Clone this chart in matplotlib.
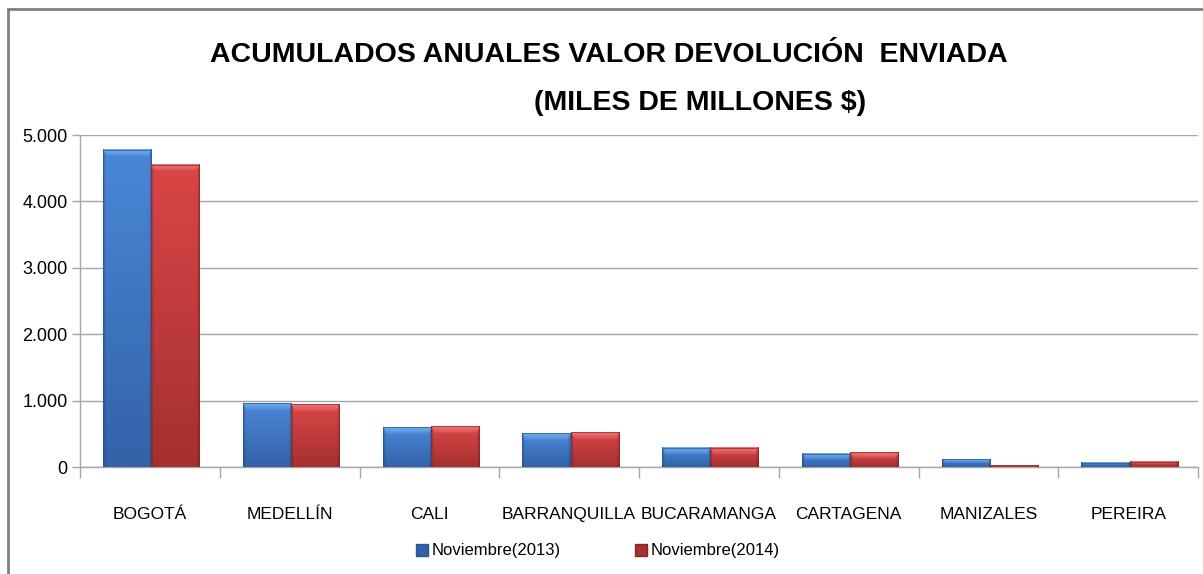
import numpy as np
import matplotlib
matplotlib.use("Agg")
import matplotlib.pyplot as plt
from matplotlib.colors import to_rgb
from matplotlib.patches import Rectangle
from matplotlib.ticker import FuncFormatter

ciudades = ["BOGOTÁ", "MEDELLÍN", "CALI", "BARRANQUILLA", "BUCARAMANGA",
            "CARTAGENA", "MANIZALES", "PEREIRA"]
nov_2013 = [4780, 960, 595, 505, 290, 200, 120, 65]
nov_2014 = [4550, 945, 615, 525, 290, 220, 30, 80]
series = ["Noviembre(2013)", "Noviembre(2014)"]
y_ticks = [0, 1000, 2000, 3000, 4000, 5000]

plt.rcParams['font.family'] = ['Liberation Sans', 'DejaVu Sans']

W, H = 1203, 574
fig = plt.figure(figsize=(W / 100, H / 100), dpi=100)
ax = fig.add_axes([80 / W, 1 - 467 / H, 1118 / W, 332 / H])

x = np.arange(len(ciudades))
bw = 0.345
styles = [
    {'light': '#4a88d8', 'dark': '#3362a8', 'top': '#72b0f2', 'edge': '#2a5590'},
    {'light': '#da4646', 'dark': '#a53030', 'top': '#f27a7a', 'edge': '#8a2525'},
]


def bar_image(st, v):
    # vertical gradient, darker side edges, lighter bevel on top
    ny, nx = 200, 48
    light, dark, top = (np.array(to_rgb(st[k])) for k in ('light', 'dark', 'top'))
    t = np.linspace(0, 1, ny)[:, None, None]
    img = light * (1 - t) + dark * t
    img = np.repeat(img, nx, axis=1)
    xs = np.linspace(0, 1, nx)
    edge = 1 - 0.18 * np.clip(1 - np.minimum(xs, 1 - xs) / 0.06, 0, 1)
    img = img * edge[None, :, None]
    bevel_px = int(ny * min(110 / v, 0.45))
    for r in range(bevel_px):
        a = 0.85 * (1 - r / max(bevel_px, 1)) ** 0.6
        inset = int(nx * 0.06 * r / max(bevel_px, 1)) + 1
        img[r, inset:nx - inset] = img[r, inset:nx - inset] * (1 - a) + top * a
    return img


for i, (vals, st) in enumerate(zip([nov_2013, nov_2014], styles)):
    offs = x - bw / 2 + i * bw + 0.01
    bars = ax.bar(offs, vals, width=bw, color=st['light'], edgecolor=st['edge'],
                  linewidth=0.6, label=series[i], zorder=3)
    for b, v in zip(bars, vals):
        x0 = b.get_x()
        ax.imshow(bar_image(st, v), aspect='auto', zorder=3.5, interpolation='bilinear',
                  extent=[x0, x0 + bw, 0, v])
        ax.add_patch(Rectangle((x0, 0), bw, v, facecolor='none',
                               edgecolor=st['edge'], linewidth=0.5, zorder=3.7))

ax.set_xlim(-0.5, len(ciudades) - 0.5)
ax.set_ylim(0, 5000)
ax.set_yticks(y_ticks)
ax.yaxis.set_major_formatter(FuncFormatter(lambda v, p: f"{int(v):,}".replace(",", ".")))
ax.yaxis.grid(True, color='#a6a6a6', linewidth=1.0, zorder=0)
ax.set_axisbelow(True)

ax.set_xticks(np.arange(-0.5, len(ciudades), 1.0))
ax.set_xticklabels([])
ax.set_xticks(x, minor=True)
ax.set_xticklabels(ciudades, minor=True, fontsize=12.5)
ax.tick_params(axis='x', which='major', length=8, color='#a6a6a6', width=1)
ax.tick_params(axis='x', which='minor', length=0, pad=29)
ax.tick_params(axis='y', length=6, color='#a6a6a6', width=1, labelsize=13, pad=3)

for s in ['top', 'right']:
    ax.spines[s].set_visible(False)
for s in ['left', 'bottom']:
    ax.spines[s].set_color('#a6a6a6')
    ax.spines[s].set_linewidth(1.0)

fig.text(0.506, 1 - 55 / H, "ACUMULADOS ANUALES VALOR DEVOLUCIÓN  ENVIADA",
         ha='center', va='center', fontsize=20.5, fontweight='bold')
fig.text(0.582, 1 - 103 / H, "(MILES DE MILLONES $)",
         ha='center', va='center', fontsize=20.5, fontweight='bold')

handles = [Rectangle((0, 0), 1, 1, facecolor=st['dark'], edgecolor=st['edge'])
           for st in styles]
fig.legend(handles, series, loc='center', bbox_to_anchor=(0.497, 1 - 551 / H),
           ncol=2, frameon=False, fontsize=12, handlelength=0.7, handleheight=0.7,
           handletextpad=0.2, columnspacing=4.5)

fig.add_artist(Rectangle((8 / W, -0.1), 1.2, 1 - 9 / H + 0.1, transform=fig.transFigure,
                         facecolor='none', edgecolor='#808080', linewidth=2.0))

fig.savefig("out.png", dpi=100)
